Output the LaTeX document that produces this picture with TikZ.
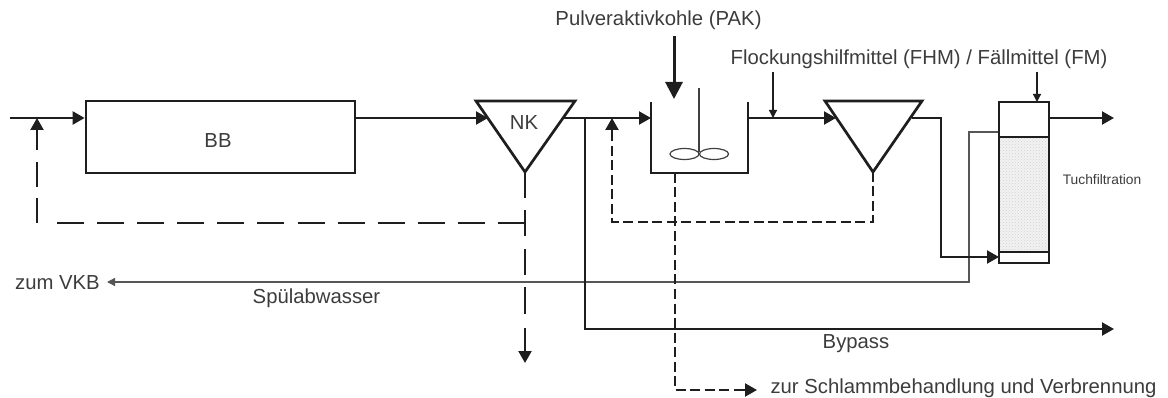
\documentclass[tikz,border=0pt]{standalone}
\usepackage{fontspec}
\setmainfont{Liberation Sans}
\usetikzlibrary{arrows.meta,patterns,calc}
\definecolor{ink}{HTML}{1E1E1E}
\definecolor{txt}{HTML}{3C3C3C}
\tikzset{
  x=1pt,y=-1pt,
  unit/.style={draw=ink,line width=2.7pt,line join=miter},
  flow/.style={draw=ink,line width=2.2pt,-{Triangle[length=12pt,width=13pt]}},
  plain/.style={draw=ink,line width=2.2pt},
  longdash/.style={draw=ink,line width=2.2pt,dash pattern=on 27pt off 13.1pt},
  vdash/.style={draw=ink,line width=2.2pt,dash pattern=on 26pt off 12.5pt},
  sidedash/.style={draw=ink,line width=2.2pt,dash pattern=on 25pt off 11pt},
  shortdash/.style={draw=ink,line width=2.2pt,dash pattern=on 10pt off 4.5pt},
  thinflow/.style={draw=ink!75,line width=1.3pt},
  lab/.style={text=txt,font=\fontsize{20.3}{22}\selectfont,inner sep=0pt,anchor=center},
}
\begin{document}
\begin{tikzpicture}
\useasboundingbox (0,0) rectangle (1168,398);
% coordinates
\coordinate (in) at (10,118);
\coordinate (r1) at (37,118);
\coordinate (r1c) at (37,223);
\coordinate (r1t) at (37,162);
\coordinate (r1a) at (37,150);
\coordinate (hEnd) at (53,223);
\coordinate (nkL) at (476,101);
\coordinate (nkR) at (575,101);
\coordinate (nkA) at (525,172);
\coordinate (nkIn) at (488,118);
\coordinate (nkOut) at (563,118);
\coordinate (nkJ) at (525,223);
\coordinate (nkDe) at (525,315);
\coordinate (nkEnd) at (525,363);
\coordinate (nkTail) at (525,328);
\coordinate (tL) at (651,102);
\coordinate (tLb) at (651,173);
\coordinate (tRb) at (748,173);
\coordinate (tR) at (748,102);
\coordinate (tIn) at (651,118);
\coordinate (tOut) at (748,118);
\coordinate (tSlud) at (675,173);
\coordinate (tSc) at (675,390);
\coordinate (tSe) at (757,390);
\coordinate (tSd) at (735,390);
\coordinate (byJ) at (585,118);
\coordinate (byC) at (585,329);
\coordinate (byE) at (1114,329);
\coordinate (r2) at (612,118);
\coordinate (r2a) at (612,134);
\coordinate (r2c) at (612,222);
\coordinate (sL) at (825,101);
\coordinate (sR) at (922,101);
\coordinate (sA) at (873,172);
\coordinate (sIn) at (836,118);
\coordinate (sOut) at (912,118);
\coordinate (sJ) at (873,222);
\coordinate (o1) at (941,118);
\coordinate (o2) at (941,257);
\coordinate (fA) at (999,102);
\coordinate (fB) at (1049,137);
\coordinate (fC) at (999,252);
\coordinate (fD) at (1049,263);
\coordinate (fIn) at (999,257);
\coordinate (fOut) at (1049,118);
\coordinate (fEnd) at (1114,118);
\coordinate (wA) at (999,132);
\coordinate (wB) at (969,132);
\coordinate (wC) at (969,282);
\coordinate (wE) at (107,282);
\coordinate (pakA) at (674,36);
\coordinate (pakB) at (674,99);
\coordinate (fhmA) at (773,72);
\coordinate (fhmB) at (773,118);
\coordinate (fm2A) at (1037,72);
\coordinate (fm2B) at (1037,102);
\coordinate (shA) at (699,88);
\coordinate (shB) at (699,152);
\coordinate (elA) at (684.5,154);
\coordinate (elB) at (714,154);
% dashed lines below the solid ones
\draw[longdash] (nkJ) -- (hEnd);
\draw[vdash] (nkA) -- (nkDe);
\draw[sidedash] (r1c) -- (r1t);
\draw[flow] (r1a) -- (r1);
\draw[flow] (nkTail) -- (nkEnd);
\draw[thinflow,-{Triangle[length=8pt,width=8pt]}] (wA) -- (wB) -- (wC) -- (wE);
\draw[shortdash] (sA) -- (sJ) -- (r2c) -- (r2a);
\draw[flow] (r2a) -- (r2);
\draw[shortdash] (tSlud) -- (tSc) -- (tSd);
\draw[flow] (tSd) -- (tSe);
% units
\node[unit,minimum width=269pt,minimum height=72pt,inner sep=0pt] (bb) at (220.5,137) {};
\node[lab] (bbl) at (218,141) {BB};
\draw[unit,fill=white] (nkL) -- (nkR) -- (nkA) -- cycle;
\node[lab] (nkl) at (524,123) {NK};
\draw[unit] (tL) -- (tLb) -- (tRb) -- (tR);
\draw[draw=ink!85,line width=1.3pt] (shA) -- (shB);
\draw[draw=ink!85,line width=1.2pt] (elA) ellipse [x radius=14.5pt,y radius=5.5pt];
\draw[draw=ink!85,line width=1.2pt] (elB) ellipse [x radius=14.5pt,y radius=5.5pt];
\draw[unit,fill=white] (sL) -- (sR) -- (sA) -- cycle;
% filter
\fill[gray!10] (fA |- fB) rectangle (fC -| fD);
\fill[pattern=crosshatch dots,pattern color=gray!35] (fA |- fB) rectangle (fC -| fD);
\draw[unit] (fA) rectangle (fD);
\draw[unit] (fA |- fB) -- (fB);
\draw[unit] (fC) -- (fC -| fD);
% solid flows
\draw[flow] (in) -- (bb.west |- in);
\draw[flow] (bb.east |- in) -- (nkIn);
\draw[flow] (nkOut) -- (tIn);
\draw[flow] (byJ) -- (byC) -- (byE);
\draw[flow] (tOut) -- (sIn);
\draw[flow] (sOut) -- (o1) -- (o2) -- (fIn);
\draw[flow] (fOut) -- (fEnd);
\draw[draw=ink,line width=3pt,-{Triangle[length=17pt,width=17pt]}] (pakA) -- (pakB);
\draw[draw=ink,line width=1.3pt,-{Triangle[length=8pt,width=8pt]}] (fhmA) -- (fhmB);
\draw[draw=ink,line width=1.3pt,-{Triangle[length=8pt,width=8pt]}] (fm2A) -- (fm2B);
% labels
\node[lab] (pak) at (658.5,20) {Pulveraktivkohle (PAK)};
\node[lab] (fhm) at (919,59) {Flockungshilfmittel (FHM) / Fällmittel (FM)};
\node[lab] (vkb) at (57.5,283) {zum VKB};
\node[lab] (spu) at (316.5,298) {Spülabwasser};
\node[lab] (byp) at (856,344) {Bypass};
\node[lab] (zur) at (963.5,388) {zur Schlammbehandlung und Verbrennung};
\node[lab,font=\fontsize{13.8}{15}\selectfont] (tuch) at (1102,180) {Tuchfiltration};
\end{tikzpicture}
\end{document}
